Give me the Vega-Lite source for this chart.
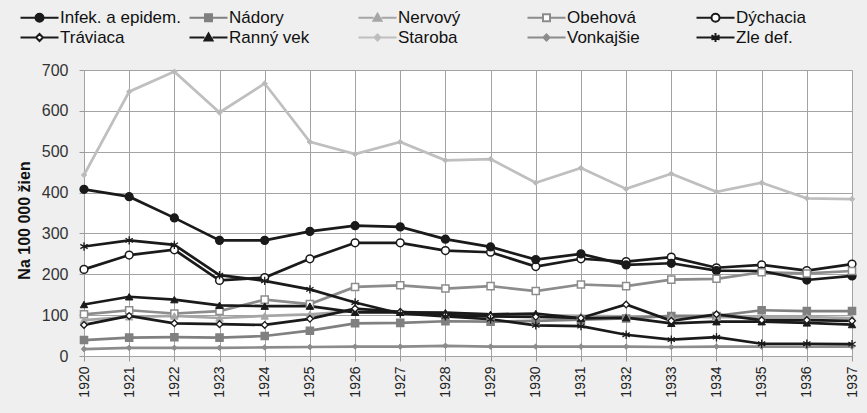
{
  "$schema": "https://vega.github.io/schema/vega-lite/v6.json",
  "width": 768,
  "height": 286,
  "autosize": "none",
  "padding": {"left": 84, "top": 70, "right": 15, "bottom": 57},
  "background": "#efefef",
  "config": {
    "view": {"fill": "white", "stroke": null},
    "font": "Liberation Sans",
    "legend": {"columns": 5, "gridAlign": "all", "columnPadding": 4, "rowPadding": 2, "labelFontSize": 17, "labelOffset": 26, "symbolSize": 100, "symbolStrokeWidth": 2, "padding": 0, "labelColor": "#111", "labelLimit": 300}
  },
  "data": {"values": [
    {"year":1920,"series":"Staroba","value":443},{"year":1921,"series":"Staroba","value":647},{"year":1922,"series":"Staroba","value":696},{"year":1923,"series":"Staroba","value":596},{"year":1924,"series":"Staroba","value":667},{"year":1925,"series":"Staroba","value":524},{"year":1926,"series":"Staroba","value":494},{"year":1927,"series":"Staroba","value":524},{"year":1928,"series":"Staroba","value":479},{"year":1929,"series":"Staroba","value":482},{"year":1930,"series":"Staroba","value":424},{"year":1931,"series":"Staroba","value":460},{"year":1932,"series":"Staroba","value":409},{"year":1933,"series":"Staroba","value":446},{"year":1934,"series":"Staroba","value":402},{"year":1935,"series":"Staroba","value":424},{"year":1936,"series":"Staroba","value":386},{"year":1937,"series":"Staroba","value":384},
    {"year":1920,"series":"Vonkajšie","value":17},{"year":1921,"series":"Vonkajšie","value":20},{"year":1922,"series":"Vonkajšie","value":20},{"year":1923,"series":"Vonkajšie","value":20},{"year":1924,"series":"Vonkajšie","value":21},{"year":1925,"series":"Vonkajšie","value":22},{"year":1926,"series":"Vonkajšie","value":23},{"year":1927,"series":"Vonkajšie","value":23},{"year":1928,"series":"Vonkajšie","value":25},{"year":1929,"series":"Vonkajšie","value":23},{"year":1930,"series":"Vonkajšie","value":23},{"year":1931,"series":"Vonkajšie","value":23},{"year":1932,"series":"Vonkajšie","value":23},{"year":1933,"series":"Vonkajšie","value":22},{"year":1934,"series":"Vonkajšie","value":23},{"year":1935,"series":"Vonkajšie","value":23},{"year":1936,"series":"Vonkajšie","value":23},{"year":1937,"series":"Vonkajšie","value":23},
    {"year":1920,"series":"Nervový","value":88},{"year":1921,"series":"Nervový","value":96},{"year":1922,"series":"Nervový","value":98},{"year":1923,"series":"Nervový","value":93},{"year":1924,"series":"Nervový","value":98},{"year":1925,"series":"Nervový","value":102},{"year":1926,"series":"Nervový","value":110},{"year":1927,"series":"Nervový","value":108},{"year":1928,"series":"Nervový","value":105},{"year":1929,"series":"Nervový","value":102},{"year":1930,"series":"Nervový","value":100},{"year":1931,"series":"Nervový","value":98},{"year":1932,"series":"Nervový","value":97},{"year":1933,"series":"Nervový","value":96},{"year":1934,"series":"Nervový","value":95},{"year":1935,"series":"Nervový","value":95},{"year":1936,"series":"Nervový","value":95},{"year":1937,"series":"Nervový","value":93},
    {"year":1920,"series":"Nádory","value":39},{"year":1921,"series":"Nádory","value":45},{"year":1922,"series":"Nádory","value":46},{"year":1923,"series":"Nádory","value":45},{"year":1924,"series":"Nádory","value":49},{"year":1925,"series":"Nádory","value":62},{"year":1926,"series":"Nádory","value":80},{"year":1927,"series":"Nádory","value":81},{"year":1928,"series":"Nádory","value":85},{"year":1929,"series":"Nádory","value":84},{"year":1930,"series":"Nádory","value":86},{"year":1931,"series":"Nádory","value":89},{"year":1932,"series":"Nádory","value":92},{"year":1933,"series":"Nádory","value":98},{"year":1934,"series":"Nádory","value":98},{"year":1935,"series":"Nádory","value":112},{"year":1936,"series":"Nádory","value":110},{"year":1937,"series":"Nádory","value":110},
    {"year":1920,"series":"Obehová","value":102},{"year":1921,"series":"Obehová","value":112},{"year":1922,"series":"Obehová","value":104},{"year":1923,"series":"Obehová","value":110},{"year":1924,"series":"Obehová","value":138},{"year":1925,"series":"Obehová","value":127},{"year":1926,"series":"Obehová","value":169},{"year":1927,"series":"Obehová","value":173},{"year":1928,"series":"Obehová","value":165},{"year":1929,"series":"Obehová","value":171},{"year":1930,"series":"Obehová","value":159},{"year":1931,"series":"Obehová","value":175},{"year":1932,"series":"Obehová","value":171},{"year":1933,"series":"Obehová","value":187},{"year":1934,"series":"Obehová","value":189},{"year":1935,"series":"Obehová","value":205},{"year":1936,"series":"Obehová","value":202},{"year":1937,"series":"Obehová","value":208},
    {"year":1920,"series":"Tráviaca","value":76},{"year":1921,"series":"Tráviaca","value":98},{"year":1922,"series":"Tráviaca","value":80},{"year":1923,"series":"Tráviaca","value":78},{"year":1924,"series":"Tráviaca","value":76},{"year":1925,"series":"Tráviaca","value":91},{"year":1926,"series":"Tráviaca","value":116},{"year":1927,"series":"Tráviaca","value":108},{"year":1928,"series":"Tráviaca","value":100},{"year":1929,"series":"Tráviaca","value":97},{"year":1930,"series":"Tráviaca","value":96},{"year":1931,"series":"Tráviaca","value":93},{"year":1932,"series":"Tráviaca","value":126},{"year":1933,"series":"Tráviaca","value":86},{"year":1934,"series":"Tráviaca","value":102},{"year":1935,"series":"Tráviaca","value":88},{"year":1936,"series":"Tráviaca","value":88},{"year":1937,"series":"Tráviaca","value":86},
    {"year":1920,"series":"Ranný vek","value":126},{"year":1921,"series":"Ranný vek","value":145},{"year":1922,"series":"Ranný vek","value":138},{"year":1923,"series":"Ranný vek","value":124},{"year":1924,"series":"Ranný vek","value":122},{"year":1925,"series":"Ranný vek","value":122},{"year":1926,"series":"Ranný vek","value":107},{"year":1927,"series":"Ranný vek","value":107},{"year":1928,"series":"Ranný vek","value":106},{"year":1929,"series":"Ranný vek","value":102},{"year":1930,"series":"Ranný vek","value":104},{"year":1931,"series":"Ranný vek","value":92},{"year":1932,"series":"Ranný vek","value":94},{"year":1933,"series":"Ranný vek","value":80},{"year":1934,"series":"Ranný vek","value":84},{"year":1935,"series":"Ranný vek","value":84},{"year":1936,"series":"Ranný vek","value":81},{"year":1937,"series":"Ranný vek","value":77},
    {"year":1920,"series":"Zle def.","value":268},{"year":1921,"series":"Zle def.","value":283},{"year":1922,"series":"Zle def.","value":272},{"year":1923,"series":"Zle def.","value":198},{"year":1924,"series":"Zle def.","value":184},{"year":1925,"series":"Zle def.","value":163},{"year":1926,"series":"Zle def.","value":131},{"year":1927,"series":"Zle def.","value":104},{"year":1928,"series":"Zle def.","value":97},{"year":1929,"series":"Zle def.","value":90},{"year":1930,"series":"Zle def.","value":75},{"year":1931,"series":"Zle def.","value":73},{"year":1932,"series":"Zle def.","value":52},{"year":1933,"series":"Zle def.","value":40},{"year":1934,"series":"Zle def.","value":46},{"year":1935,"series":"Zle def.","value":30},{"year":1936,"series":"Zle def.","value":30},{"year":1937,"series":"Zle def.","value":29},
    {"year":1920,"series":"Dýchacia","value":212},{"year":1921,"series":"Dýchacia","value":247},{"year":1922,"series":"Dýchacia","value":260},{"year":1923,"series":"Dýchacia","value":185},{"year":1924,"series":"Dýchacia","value":192},{"year":1925,"series":"Dýchacia","value":238},{"year":1926,"series":"Dýchacia","value":277},{"year":1927,"series":"Dýchacia","value":277},{"year":1928,"series":"Dýchacia","value":258},{"year":1929,"series":"Dýchacia","value":254},{"year":1930,"series":"Dýchacia","value":219},{"year":1931,"series":"Dýchacia","value":238},{"year":1932,"series":"Dýchacia","value":231},{"year":1933,"series":"Dýchacia","value":242},{"year":1934,"series":"Dýchacia","value":216},{"year":1935,"series":"Dýchacia","value":223},{"year":1936,"series":"Dýchacia","value":209},{"year":1937,"series":"Dýchacia","value":225},
    {"year":1920,"series":"Infek. a epidem.","value":408},{"year":1921,"series":"Infek. a epidem.","value":390},{"year":1922,"series":"Infek. a epidem.","value":338},{"year":1923,"series":"Infek. a epidem.","value":283},{"year":1924,"series":"Infek. a epidem.","value":283},{"year":1925,"series":"Infek. a epidem.","value":305},{"year":1926,"series":"Infek. a epidem.","value":319},{"year":1927,"series":"Infek. a epidem.","value":316},{"year":1928,"series":"Infek. a epidem.","value":286},{"year":1929,"series":"Infek. a epidem.","value":267},{"year":1930,"series":"Infek. a epidem.","value":236},{"year":1931,"series":"Infek. a epidem.","value":250},{"year":1932,"series":"Infek. a epidem.","value":223},{"year":1933,"series":"Infek. a epidem.","value":227},{"year":1934,"series":"Infek. a epidem.","value":209},{"year":1935,"series":"Infek. a epidem.","value":208},{"year":1936,"series":"Infek. a epidem.","value":186},{"year":1937,"series":"Infek. a epidem.","value":196}
  ]},
  "encoding": {
    "x": {"field": "year", "type": "ordinal", "scale": {"type": "point", "padding": 0},
      "axis": {"title": null, "labelAngle": -90, "labelFontSize": 14, "labelColor": "#222", "labelPadding": 5, "tickSize": 5, "tickColor": "#999", "domain": false, "grid": true, "gridColor": "#a3a3a3"}},
    "y": {"field": "value", "type": "quantitative", "scale": {"domain": [0, 700]},
      "axis": {"title": "Na 100 000 žien", "titleFontSize": 16, "titleFontWeight": "bold", "titleColor": "#111", "titlePadding": 9, "titleY": 150, "values": [0,100,200,300,400,500,600,700], "labelFontSize": 16, "labelColor": "#333", "labelPadding": 11, "tickSize": 5, "tickColor": "#999", "domain": false, "grid": true, "gridColor": "#a3a3a3"}}
  },
  "layer": [
    {
      "mark": {"type": "line", "strokeWidth": 2.7},
      "encoding": {
        "stroke": {"field": "series", "type": "nominal",
          "scale": {"domain": ["Infek. a epidem.","Nádory","Nervový","Obehová","Dýchacia","Tráviaca","Ranný vek","Staroba","Vonkajšie","Zle def."],
                    "range": ["#1a1a1a","#808080","#a6a6a6","#8c8c8c","#1a1a1a","#1a1a1a","#1a1a1a","#bfbfbf","#8c8c8c","#1a1a1a"]}},
        "detail": {"field": "series"}
      }
    },
    {
      "transform": [{"filter": {"field": "series", "oneOf": ["Infek. a epidem.", "Dýchacia"]}}],
      "mark": {"type": "point", "shape": "circle", "filled": true, "size": 60, "strokeWidth": 1.5, "opacity": 1},
      "encoding": {
        "fill": {"field": "series", "type": "nominal", "scale": {"domain": ["Infek. a epidem.","Nádory","Nervový","Obehová","Dýchacia","Tráviaca","Ranný vek","Staroba","Vonkajšie","Zle def."], "range": ["#1a1a1a","#808080","#a6a6a6","#ffffff","#ffffff","#ffffff","#1a1a1a","#b8b8b8","#8c8c8c","#1a1a1a"]}},
        "stroke": {"field": "series", "type": "nominal"}
      }
    },
    {
      "transform": [{"filter": {"field": "series", "oneOf": ["Nádory", "Obehová"]}}],
      "mark": {"type": "point", "shape": "square", "filled": true, "size": 50, "strokeWidth": 1.5, "opacity": 1},
      "encoding": {
        "fill": {"field": "series", "type": "nominal"},
        "stroke": {"field": "series", "type": "nominal"}
      }
    },
    {
      "transform": [{"filter": {"field": "series", "oneOf": ["Nervový", "Ranný vek"]}}],
      "mark": {"type": "point", "shape": "triangle-up", "filled": true, "size": 55, "strokeWidth": 1, "opacity": 1},
      "encoding": {
        "fill": {"field": "series", "type": "nominal"},
        "stroke": {"field": "series", "type": "nominal"}
      }
    },
    {
      "transform": [{"filter": {"field": "series", "oneOf": ["Staroba", "Vonkajšie"]}}],
      "mark": {"type": "point", "shape": "diamond", "filled": true, "size": 30, "strokeWidth": 1, "opacity": 1},
      "encoding": {
        "fill": {"field": "series", "type": "nominal"},
        "stroke": {"field": "series", "type": "nominal"}
      }
    },
    {
      "transform": [{"filter": {"field": "series", "oneOf": ["Tráviaca"]}}],
      "mark": {"type": "point", "shape": "diamond", "filled": true, "size": 45, "strokeWidth": 1.3, "opacity": 1},
      "encoding": {
        "fill": {"field": "series", "type": "nominal"},
        "stroke": {"field": "series", "type": "nominal"}
      }
    },
    {
      "transform": [{"filter": {"field": "series", "oneOf": ["Zle def."]}}],
      "mark": {"type": "point", "shape": "M0,-1V1M-0.87,-0.5L0.87,0.5M-0.87,0.5L0.87,-0.5", "filled": false, "size": 70, "strokeWidth": 1.3, "opacity": 1},
      "encoding": {
        "stroke": {"field": "series", "type": "nominal"}
      }
    },
    {
      "transform": [{"filter": "datum.value < 0"}],
      "mark": {"type": "point", "filled": true, "size": 100, "strokeWidth": 2, "opacity": 1},
      "encoding": {
        "shape": {"field": "series", "type": "nominal",
          "scale": {"domain": ["Infek. a epidem.","Nádory","Nervový","Obehová","Dýchacia","Tráviaca","Ranný vek","Staroba","Vonkajšie","Zle def."],
            "range": [
              "M-1,0H2M3.6,0H6.6M2,0A0.8,0.8 0 1,1 3.6,0A0.8,0.8 0 1,1 2,0Z",
              "M-1,0H2M3.6,0H6.6M2.1,-0.7H3.5V0.7H2.1Z",
              "M-1,0H2M3.6,0H6.6M2,0.6L2.8,-0.8L3.6,0.6Z",
              "M-1,0H2M3.6,0H6.6M2.1,-0.7H3.5V0.7H2.1Z",
              "M-1,0H2M3.6,0H6.6M2,0A0.8,0.8 0 1,1 3.6,0A0.8,0.8 0 1,1 2,0Z",
              "M-1,0H2.1M3.5,0H6.6M2.1,0L2.8,-0.7L3.5,0L2.8,0.7Z",
              "M-1,0H2M3.6,0H6.6M2,0.6L2.8,-0.8L3.6,0.6Z",
              "M-1,0H2.2M3.4,0H6.6M2.2,0L2.8,-0.6L3.4,0L2.8,0.6Z",
              "M-1,0H2.2M3.4,0H6.6M2.2,0L2.8,-0.6L3.4,0L2.8,0.6Z",
              "M-1,0H6.6M2.8,-0.9V0.9M2.0,-0.45L3.6,0.45M2.0,0.45L3.6,-0.45"
            ]},
          "legend": {"title": null, "orient": "none", "direction": "horizontal", "legendX": -67, "legendY": -61}},
        "fill": {"field": "series", "type": "nominal", "legend": {"title": null, "orient": "none", "direction": "horizontal", "legendX": -67, "legendY": -61}},
        "stroke": {"field": "series", "type": "nominal", "legend": {"title": null, "orient": "none", "direction": "horizontal", "legendX": -67, "legendY": -61}}
      }
    }
  ]
}
